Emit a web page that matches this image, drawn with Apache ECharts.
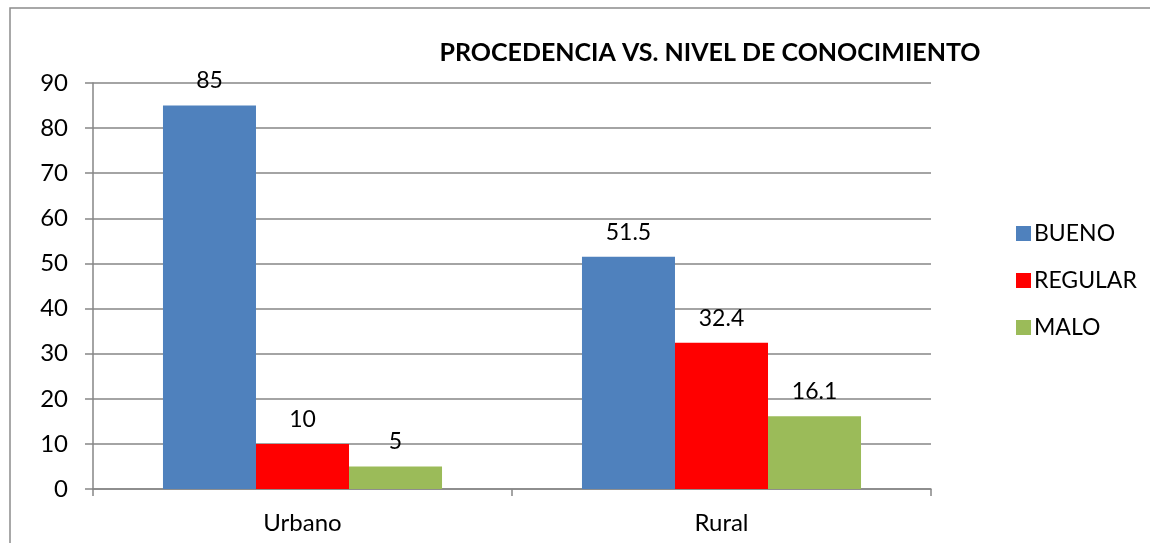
<!DOCTYPE html>
<html>
<head>
<meta charset="utf-8">
<script src="https://cdn.jsdelivr.net/npm/echarts@6/dist/echarts.min.js"></script>
<style>
  html, body { margin: 0; padding: 0; background: #fff; }
  #chart { width: 1150px; height: 543px; }
</style>
</head>
<body>
<div id="chart"></div>
<script>
const categories = ['Urbano', 'Rural'];
const bueno = [85, 51.5];
const regular = [10, 32.4];
const malo = [5, 16.1];
const yTicks = [0, 10, 20, 30, 40, 50, 60, 70, 80, 90];

const font = 'Lato, "Open Sans", sans-serif';
const gridColor = '#868686';

const chart = echarts.init(document.getElementById('chart'));

const barLabel = {
  show: true,
  position: 'top',
  distance: 13,
  color: '#000',
  fontSize: 23,
  fontFamily: font,
};

chart.setOption({
  animation: false,
  graphic: [{
    type: 'rect',
    shape: { x: 10, y: 8, width: 1160, height: 560 },
    style: { fill: 'none', stroke: '#8c8c8c', lineWidth: 1.5 },
  }],
  title: {
    text: 'PROCEDENCIA VS. NIVEL DE CONOCIMIENTO',
    left: 705,
    textAlign: 'center',
    top: 34,
    textStyle: { fontFamily: font, fontWeight: 'bold', fontSize: 25, color: '#000', lineHeight: 28 },
  },
  legend: {
    orient: 'vertical',
    left: 1011,
    top: 217,
    itemWidth: 15,
    itemHeight: 15,
    itemGap: 24,
    icon: 'rect',
    textStyle: { fontFamily: font, fontSize: 23, color: '#000', lineHeight: 20, padding: [0, 0, 0, -2] },
    data: ['BUENO', 'REGULAR', 'MALO'],
  },
  grid: { left: 93, right: 219, top: 83, bottom: 54, containLabel: false },
  xAxis: {
    type: 'category',
    data: categories,
    axisLine: { lineStyle: { color: gridColor, width: 1.5 } },
    axisTick: { show: true, length: 7, alignWithLabel: false, lineStyle: { color: gridColor, width: 1.5 } },
    axisLabel: { color: '#000', fontFamily: font, fontSize: 24, margin: 22 },
  },
  yAxis: {
    type: 'value',
    min: yTicks[0],
    max: yTicks[yTicks.length - 1],
    interval: 10,
    axisLine: { show: true, lineStyle: { color: gridColor, width: 1.5 } },
    axisTick: { show: true, length: 8, lineStyle: { color: gridColor, width: 1.5 } },
    splitLine: { lineStyle: { color: gridColor, width: 1.5 } },
    axisLabel: { color: '#000', fontFamily: font, fontSize: 24, margin: 25 },
  },
  series: [
    { name: 'BUENO', type: 'bar', data: bueno, barGap: '0%', barCategoryGap: '33.4%', itemStyle: { color: '#4f81bd' }, label: barLabel },
    { name: 'REGULAR', type: 'bar', data: regular, itemStyle: { color: '#ff0000' }, label: barLabel },
    { name: 'MALO', type: 'bar', data: malo, itemStyle: { color: '#9bbb59' }, label: barLabel },
  ],
});
</script>
</body>
</html>
